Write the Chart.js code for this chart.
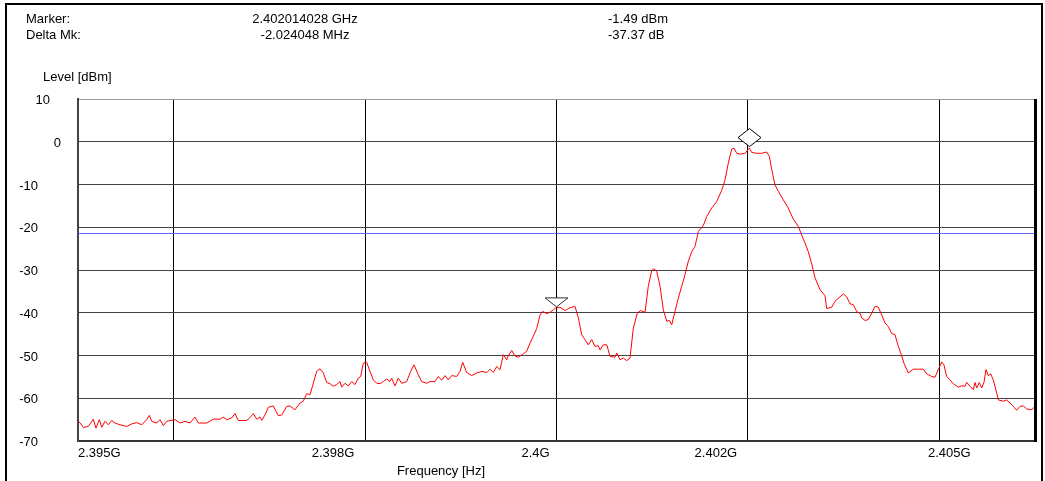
<!DOCTYPE html>
<html>
<head>
<meta charset="utf-8">
<script src="https://cdn.jsdelivr.net/npm/chart.js@4.4.1/dist/chart.umd.min.js"></script>
<style>
  html, body { margin: 0; padding: 0; background: #fff; }
  #wrap { position: relative; width: 1045px; height: 481px; }
</style>
</head>
<body>
<div id="wrap"><canvas id="spectrum" width="1045" height="481"></canvas></div>
<script>
// Trace (frequency in MHz, level in dBm)
const freqMHz = [
  2395.000, 2395.021, 2395.055, 2395.108, 2395.160, 2395.188, 2395.223, 2395.248, 2395.282, 2395.317,
  2395.352, 2395.387, 2395.439, 2395.509, 2395.561, 2395.613, 2395.666, 2395.718, 2395.745, 2395.770,
  2395.822, 2395.857, 2395.891, 2395.927, 2396.014, 2396.066, 2396.118, 2396.170, 2396.223, 2396.257,
  2396.345, 2396.414, 2396.484, 2396.518, 2396.554, 2396.606, 2396.641, 2396.675, 2396.763, 2396.815,
  2396.832, 2396.867, 2396.902, 2396.920, 2396.954, 2396.989, 2397.041, 2397.093, 2397.129, 2397.181,
  2397.215, 2397.267, 2397.320, 2397.354, 2397.390, 2397.424, 2397.459, 2397.494, 2397.529, 2397.563,
  2397.599, 2397.633, 2397.668, 2397.703, 2397.738, 2397.755, 2397.790, 2397.824, 2397.860, 2397.894,
  2397.929, 2397.954, 2397.981, 2398.017, 2398.051, 2398.086, 2398.121, 2398.156, 2398.190, 2398.226,
  2398.260, 2398.278, 2398.312, 2398.347, 2398.382, 2398.435, 2398.476, 2398.511, 2398.556, 2398.591,
  2398.644, 2398.678, 2398.730, 2398.765, 2398.800, 2398.835, 2398.869, 2398.905, 2398.957, 2398.992,
  2399.020, 2399.062, 2399.114, 2399.166, 2399.218, 2399.271, 2399.305, 2399.340, 2399.375, 2399.410,
  2399.444, 2399.480, 2399.496, 2399.532, 2399.566, 2399.601, 2399.653, 2399.689, 2399.723, 2399.758,
  2399.793, 2399.828, 2399.856, 2399.898, 2399.932, 2399.967, 2399.990, 2400.037, 2400.089, 2400.141,
  2400.193, 2400.228, 2400.263, 2400.298, 2400.332, 2400.368, 2400.402, 2400.437, 2400.455, 2400.489,
  2400.525, 2400.541, 2400.559, 2400.611, 2400.629, 2400.664, 2400.698, 2400.734, 2400.768, 2400.803,
  2400.844, 2400.880, 2400.925, 2400.959, 2400.995, 2401.019, 2401.047, 2401.082, 2401.116, 2401.152,
  2401.179, 2401.204, 2401.238, 2401.273, 2401.308, 2401.343, 2401.377, 2401.413, 2401.447, 2401.482,
  2401.534, 2401.570, 2401.622, 2401.674, 2401.726, 2401.761, 2401.795, 2401.831, 2401.855, 2401.883,
  2401.917, 2401.970, 2402.014, 2402.040, 2402.092, 2402.144, 2402.196, 2402.224, 2402.249, 2402.283,
  2402.318, 2402.370, 2402.422, 2402.474, 2402.527, 2402.562, 2402.597, 2402.631, 2402.667, 2402.701,
  2402.753, 2402.806, 2402.823, 2402.876, 2402.910, 2402.962, 2402.997, 2403.032, 2403.067, 2403.101,
  2403.137, 2403.171, 2403.189, 2403.224, 2403.258, 2403.294, 2403.328, 2403.363, 2403.398, 2403.433,
  2403.467, 2403.502, 2403.537, 2403.572, 2403.597, 2403.631, 2403.676, 2403.728, 2403.781, 2403.833,
  2403.868, 2403.921, 2403.955, 2403.990, 2404.025, 2404.049, 2404.077, 2404.112, 2404.146, 2404.199,
  2404.234, 2404.269, 2404.286, 2404.321, 2404.355, 2404.373, 2404.391, 2404.418, 2404.443, 2404.467,
  2404.488, 2404.512, 2404.537, 2404.564, 2404.600, 2404.617, 2404.669, 2404.704, 2404.739, 2404.773,
  2404.809, 2404.843, 2404.878, 2404.913, 2404.966, 2405.000
];
const levelDbm = [
  -65.5, -65.7, -66.8, -66.6, -64.9, -67.0, -65.0, -66.8, -65.4, -66.2,
  -65.2, -65.8, -66.2, -66.6, -66.0, -65.7, -66.2, -65.0, -64.0, -65.4,
  -65.8, -65.0, -66.4, -65.4, -65.0, -65.8, -65.4, -65.8, -64.4, -65.8,
  -65.8, -64.9, -64.9, -64.4, -65.0, -64.6, -63.6, -65.2, -65.2, -64.1,
  -63.6, -64.9, -64.4, -65.2, -63.9, -62.1, -61.8, -64.1, -63.9, -61.9,
  -61.8, -62.7, -61.1, -60.7, -58.9, -59.2, -56.5, -53.7, -53.1, -54.1,
  -56.3, -56.6, -57.2, -56.8, -56.1, -57.4, -56.5, -57.1, -56.1, -56.8,
  -55.3, -54.9, -51.8, -51.6, -53.7, -55.7, -56.5, -56.6, -56.1, -55.5,
  -56.1, -55.3, -57.1, -55.3, -56.5, -56.1, -53.7, -52.2, -54.5, -56.1,
  -56.5, -56.1, -56.1, -54.9, -55.8, -54.7, -55.7, -54.7, -54.9, -53.7,
  -51.6, -54.0, -54.7, -54.1, -53.7, -54.0, -53.2, -54.0, -52.6, -53.3,
  -49.8, -51.0, -50.1, -48.8, -50.1, -50.4, -49.6, -49.0, -47.1, -45.5,
  -43.7, -40.5, -39.7, -40.2, -39.9, -39.3, -38.9, -38.7, -39.5, -38.8,
  -38.5, -41.2, -45.1, -46.3, -47.5, -46.3, -47.9, -47.7, -48.7, -47.5,
  -47.5, -48.7, -50.2, -50.4, -49.4, -51.0, -50.6, -51.2, -50.6, -43.6,
  -40.1, -39.5, -39.9, -33.8, -30.1, -29.7, -30.3, -33.8, -39.3, -42.0,
  -41.8, -42.8, -39.7, -36.6, -33.8, -31.1, -28.0, -25.7, -24.5, -21.0,
  -19.6, -17.5, -15.5, -14.0, -11.4, -8.9, -5.0, -1.7, -1.5, -2.7,
  -2.9, -2.7, -1.49, -2.5, -2.7, -2.7, -2.4, -3.4, -6.5, -10.1,
  -11.6, -13.6, -15.5, -18.1, -19.8, -21.8, -23.7, -25.7, -28.6, -31.8,
  -34.6, -36.0, -39.0, -38.7, -37.3, -36.3, -35.6, -36.3, -37.9, -38.1,
  -39.7, -40.1, -41.2, -41.8, -41.6, -40.1, -38.5, -38.7, -40.5, -42.4,
  -43.2, -44.9, -45.1, -47.9, -49.4, -51.8, -54.1, -53.2, -53.2, -53.2,
  -54.3, -54.9, -55.1, -53.3, -51.5, -52.2, -54.9, -55.7, -56.6, -57.4,
  -57.1, -57.2, -56.3, -57.2, -58.0, -56.3, -57.6, -56.3, -57.6, -56.3,
  -53.3, -54.7, -54.3, -55.7, -58.8, -60.4, -60.7, -60.4, -61.1, -61.9,
  -62.8, -61.9, -61.8, -62.5, -62.7, -61.9
];

const xRange = [2395, 2405];
const xGridMHz = [2395, 2396, 2398, 2400, 2402, 2404];
const xLabelMHz = [2395, 2398, 2400, 2402, 2404];
const xTickLabels = ['2.395G', '2.398G', '2.4G', '2.402G', '2.405G'];
const yTicks = [10, 0, -10, -20, -30, -40, -50, -60, -70];
const yTickLabels = ['10', '0', '-10', '-20', '-30', '-40', '-50', '-60', '-70'];
const limitLevel = -21.46;

// marker (diamond) and delta marker (triangle)
const markerFreq = [2402.014028, 2399.98998];
const markerLevel = [-1.49, -38.86];
const headerLeft = ['Marker:', 'Delta Mk:'];
const headerFreq = ['2.402014028 GHz', '-2.024048 MHz'];
const headerLevel = ['-1.49 dBm', '-37.37 dB'];

const FONT = '13px "Liberation Sans", Arial, sans-serif';

const analyzerDecor = {
    id: 'analyzerDecor',
    afterDatasetsDraw(chart) {
        const ctx = chart.ctx;
        const xs = chart.scales.x;
        const ys = chart.scales.y;
        ctx.save();
        ctx.lineWidth = 1;

        // diamond marker, bottom vertex on the trace
        let px = Math.round(xs.getPixelForValue(markerFreq[0])) + 0.5;
        let py = ys.getPixelForValue(markerLevel[0]);
        ctx.beginPath();
        ctx.moveTo(px, py - 1.5);
        ctx.lineTo(px + 11.5, py - 10.5);
        ctx.lineTo(px, py - 19.5);
        ctx.lineTo(px - 11.5, py - 10.5);
        ctx.closePath();
        ctx.fillStyle = '#fff';
        ctx.fill();
        ctx.strokeStyle = '#000';
        ctx.stroke();

        // inverted triangle for the delta marker
        px = Math.round(xs.getPixelForValue(markerFreq[1])) + 0.5;
        py = ys.getPixelForValue(markerLevel[1]);
        ctx.beginPath();
        ctx.moveTo(px, py - 1);
        ctx.lineTo(px + 11.5, py - 10);
        ctx.lineTo(px - 11.5, py - 10);
        ctx.closePath();
        ctx.fillStyle = '#fff';
        ctx.fill();
        ctx.strokeStyle = '#333';
        ctx.stroke();
        ctx.restore();
    },
    afterDraw(chart) {
        const ctx = chart.ctx;
        const area = chart.chartArea;
        const xs = chart.scales.x;
        const ys = chart.scales.y;
        ctx.save();

        // thick right edge of the plot
        ctx.fillStyle = '#000';
        ctx.fillRect(area.right - 1, area.top, 3, area.bottom - area.top + 1);

        // outer frame
        ctx.fillRect(5, 3, 1038, 2);
        ctx.fillRect(5, 3, 2, 478);
        ctx.fillRect(1041, 3, 2, 478);

        ctx.font = FONT;
        ctx.fillStyle = '#000';
        ctx.textBaseline = 'alphabetic';

        // header block
        ctx.textAlign = 'left';
        headerLeft.forEach((t, i) => ctx.fillText(t, 26, 23 + i * 15.5));
        ctx.textAlign = 'center';
        headerFreq.forEach((t, i) => ctx.fillText(t, 305, 23 + i * 15.5));
        ctx.textAlign = 'left';
        headerLevel.forEach((t, i) => ctx.fillText(t, 608, 23 + i * 15.5));

        // axis titles
        ctx.fillText('Level [dBm]', 43, 81);
        ctx.textAlign = 'center';
        ctx.fillText('Frequency [Hz]', 441, 474.5);

        // y tick labels
        ctx.textAlign = 'right';
        yTicks.forEach((v, i) => {
            const label = yTickLabels[i];
            const right = label === '10' ? 50 : label === '0' ? 61 : 38;
            ctx.fillText(label, right, ys.getPixelForValue(v) + 5);
        });

        // x tick labels, offset the way the analyzer places them
        const shifts = [0, -32, -21, -32, 10];
        xLabelMHz.forEach((v, i) => {
            const x = xs.getPixelForValue(v);
            if (i === 0) {
                ctx.textAlign = 'left';
                ctx.fillText(xTickLabels[i], x, 456.5);
            } else {
                ctx.textAlign = 'center';
                ctx.fillText(xTickLabels[i], x + shifts[i], 456.5);
            }
        });
        ctx.restore();
    }
};

const trace = freqMHz.map((f, i) => ({ x: f, y: levelDbm[i] }));

new Chart(document.getElementById('spectrum'), {
    type: 'line',
    data: {
        datasets: [
            {
                label: 'Trace',
                data: trace,
                borderColor: '#ff0000',
                borderWidth: 1,
                pointRadius: 0,
                tension: 0
            },
            {
                label: 'Limit',
                data: [{ x: xRange[0], y: limitLevel }, { x: xRange[1], y: limitLevel }],
                borderColor: '#6666ff',
                borderWidth: 1,
                pointRadius: 0
            }
        ]
    },
    options: {
        responsive: false,
        animation: false,
        devicePixelRatio: 1,
        layout: { padding: { left: 78, top: 99, right: 10, bottom: 40 } },
        plugins: {
            legend: { display: false },
            tooltip: { enabled: false }
        },
        scales: {
            x: {
                type: 'linear',
                min: xRange[0],
                max: xRange[1],
                afterBuildTicks: s => { s.ticks = xGridMHz.map(v => ({ value: v })); },
                afterFit: s => { s.height = 0; },
                ticks: { display: false },
                grid: { color: '#000', lineWidth: 1, drawTicks: false },
                border: { color: '#333', width: 2 }
            },
            y: {
                min: -70,
                max: 10,
                afterBuildTicks: s => { s.ticks = yTicks.map(v => ({ value: v })); },
                afterFit: s => { s.width = 0; },
                ticks: { display: false },
                grid: {
                    color: c => (c.tick && c.tick.value === 10 ? '#9a9a9a' : '#444'),
                    lineWidth: 1,
                    drawTicks: false
                },
                border: { color: '#444', width: 2 }
            }
        }
    },
    plugins: [analyzerDecor]
});
</script>
</body>
</html>
